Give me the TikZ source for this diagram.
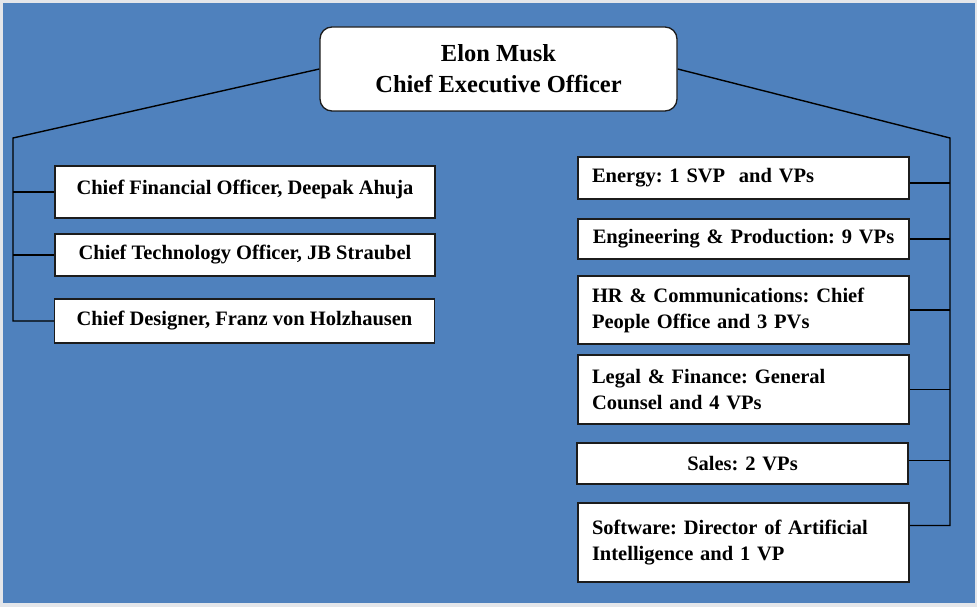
\documentclass[tikz,border=0pt]{standalone}
\usepackage{fontspec}
\setmainfont{Liberation Serif}
\frenchspacing
\usepackage{tikz}
\usetikzlibrary{calc}
\pgfdeclarelayer{bglayer}
\pgfdeclarelayer{edgelayer}
\pgfdeclarelayer{nodelayer}
\pgfsetlayers{bglayer,edgelayer,nodelayer,main}
\definecolor{chartblue}{HTML}{4F81BD}
\definecolor{framegray}{HTML}{E4E6EA}
\definecolor{boxline}{HTML}{1C1C1C}
\tikzstyle{edge}=[draw=black, line width=1.4pt]
\tikzstyle{headbox}=[draw=boxline, fill=white, line width=1.3pt, rounded corners=12pt, align=center, font=\fontsize{24.5}{31}\selectfont\bfseries, minimum width=357pt, minimum height=84pt, inner sep=0pt]
\tikzstyle{leftbox}=[draw=boxline, fill=white, line width=1.3pt, align=center, font=\fontsize{20.5}{26}\selectfont\bfseries, minimum width=380pt, inner sep=0pt]
\tikzstyle{rightbox}=[draw=boxline, fill=white, line width=1.3pt, text width=303pt, align=left, font=\fontsize{20.5}{26}\selectfont\bfseries, minimum width=331pt, inner xsep=14pt, inner ysep=0pt]

\begin{document}
\begin{tikzpicture}[x=1pt, y=-1pt]
						\useasboundingbox (0, 0) rectangle (977, 607);
						\begin{pgfonlayer}{bglayer}
							\fill [framegray] (0, 0) rectangle (977, 607);
							\fill [chartblue] (3, 3) rectangle (975, 603);
						\end{pgfonlayer}
						\begin{pgfonlayer}{nodelayer}
							\node [style=headbox] (0) at (498.5, 69) {Elon Musk\\Chief Executive Officer};
							\node [style=leftbox, minimum height=52pt, text depth=10pt] (1) at (245, 192) {Chief Financial Officer, Deepak Ahuja};
							\node [style=leftbox, minimum height=42pt] (2) at (245, 255) {Chief Technology Officer, JB Straubel};
							\node [style=leftbox, minimum height=44pt] (3) at (244.5, 321) {Chief Designer, Franz von Holzhausen};
							\node [style=rightbox, minimum height=42pt] (4) at (743.5, 178) {Energy: 1 SVP\ \ and VPs};
							\node [style=rightbox, minimum height=40pt, align=center] (5) at (743.5, 239) {\mbox{Engineering \& Production:\ 9 VPs}};
							\node [style=rightbox, minimum height=68pt] (6) at (743.5, 310) {HR \& Communications:\ Chief\\People Office and 3 PVs};
							\node [style=rightbox, minimum height=69pt] (7) at (743.5, 389.5) {Legal \& Finance: General\\Counsel and 4 VPs};
							\node [style=rightbox, minimum height=41pt, align=center] (8) at (742.5, 463.5) {Sales: 2 VPs\hspace*{14pt}};
							\node [style=rightbox, minimum height=79pt] (9) at (743.5, 542.5) {Software: Director of Artificial\\Intelligence and 1 VP\\[10pt]};
						\end{pgfonlayer}
						\coordinate (10) at (13, 138);
						\coordinate (11) at (950, 138);
						\begin{pgfonlayer}{edgelayer}
							\draw [style=edge] (0.west) -- (10) -- (10 |- 3.west) -- (3.west);
							\draw [style=edge] (10 |- 1.west) to (1.west);
							\draw [style=edge] (10 |- 2.west) to (2.west);
							\draw [style=edge] (0.east) -- (11) -- ($(11 |- 9.east)+(0, -17)$) -- ($(9.east)+(0, -17)$);
							\draw [style=edge] ($(11 |- 4.east)+(0, 5)$) to ($(4.east)+(0, 5)$);
							\draw [style=edge] (11 |- 5.east) to (5.east);
							\draw [style=edge] (11 |- 6.east) to (6.east);
							\draw [style=edge] (11 |- 7.east) to (7.east);
							\draw [style=edge] ($(11 |- 8.east)+(0, -3)$) to ($(8.east)+(0, -3)$);
						\end{pgfonlayer}
					\end{tikzpicture}
\end{document}
